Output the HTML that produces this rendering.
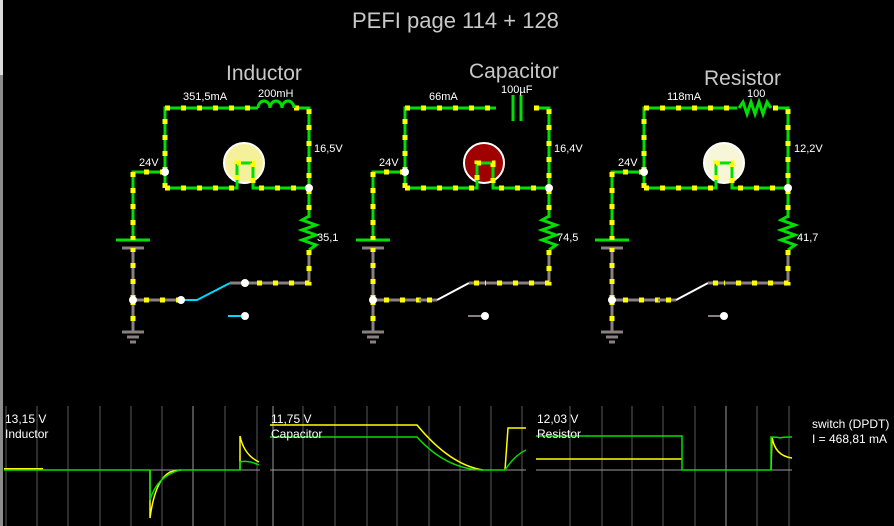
<!DOCTYPE html>
<html><head><meta charset="utf-8"><style>
html,body{margin:0;padding:0;background:#000;width:894px;height:526px;overflow:hidden}
svg{display:block}
text{font-family:"Liberation Sans",sans-serif}
</style></head><body>
<svg width="894" height="526" viewBox="0 0 894 526" xmlns="http://www.w3.org/2000/svg">
<defs>
<g id="ckt">
  <g fill="none" stroke="#00e000" stroke-width="3">
    <path d="M165 188 V108 H258 M294 108 H309 V218"/>
    <path d="M165 188 H237 V163 H253 V188 H309"/>
    <path d="M165 172 H133 V240"/>
    <path d="M116 240 H150"/>
  </g>
  <g fill="none" stroke="#8a8080" stroke-width="3">
    <path d="M309 250 V283 H245"/>
    <path d="M181 300 H133 V248 M133 300 V332"/>
    <path d="M122 248 H144"/>
    <path d="M122 332 H144 M127 337 H139 M130 342 H136"/>
  </g>
  <path d="M309 216 L302 220 L316 225 L302 230 L316 235 L302 240 L316 245 L309 250" fill="none" stroke="#00e000" stroke-width="3"/>
  <g fill="none" stroke="#ffff00" stroke-width="5" stroke-dasharray="5 11">
    <path d="M165 188 V108 H258 M294 108 H309 V218"/>
    <path d="M165 188 H237 V163 H253 V188 H309"/>
    <path d="M165 172 H133 V240"/>
    <path d="M309 250 V283 H245"/>
    <path d="M181 300 H133 V248 M133 300 V332"/>
  </g>
  <circle cx="165" cy="172" r="4" fill="#fff"/>
  <circle cx="309" cy="188" r="4" fill="#fff"/>
  <circle cx="133" cy="300" r="4" fill="#fff"/>
  <text x="139" y="166" font-size="11" fill="#fff">24V</text>
</g>
</defs>

<rect x="0" y="0" width="3" height="526" fill="#8c8c8c"/>
<rect x="0" y="0" width="3" height="75" fill="#dcdcdc"/>

<text x="352" y="28" font-size="22" fill="#c8c8c8">PEFI page 114 + 128</text>
<text x="226" y="80" font-size="21" fill="#c8c8c8">Inductor</text>
<text x="469" y="78" font-size="21" fill="#c8c8c8">Capacitor</text>
<text x="704" y="85" font-size="21" fill="#c8c8c8">Resistor</text>

<!-- Inductor circuit -->
<g>
  <circle cx="244" cy="163" r="20" fill="#f5f19a" stroke="#fff" stroke-width="2"/>
  <use href="#ckt"/>
  <path d="M258 108 a6 7 0 0 1 12 0 a6 7 0 0 1 12 0 a6 7 0 0 1 12 0" fill="none" stroke="#00e000" stroke-width="3"/>
  <path d="M230 283 L197 300 H181" fill="none" stroke="#00d8ff" stroke-width="2"/>
  <path d="M230 283 H245" stroke="#8a8080" stroke-width="3"/>
  <path d="M228 316 H245" stroke="#00d8ff" stroke-width="2"/>
  <circle cx="181" cy="300" r="4" fill="#fff"/>
  <circle cx="245" cy="283" r="4" fill="#fff"/>
  <circle cx="245" cy="316" r="4" fill="#fff"/>
  <text x="183" y="100" font-size="11" fill="#fff">351,5mA</text>
  <text x="258" y="97" font-size="11" fill="#fff">200mH</text>
  <text x="314" y="152" font-size="11" fill="#fff">16,5V</text>
  <text x="317" y="241" font-size="11" fill="#fff">35,1</text>
</g>

<!-- Capacitor circuit -->
<g>
  <circle cx="484" cy="163" r="20" fill="#a00000" stroke="#fff" stroke-width="2"/>
  <g transform="translate(240,0)"><use href="#ckt"/></g>
  <rect x="496" y="105" width="16" height="6" fill="#000"/>
  <rect x="523" y="105" width="10" height="6" fill="#000"/>
  <path d="M513 95 V121 M521 95 V121" stroke="#00e000" stroke-width="3"/>
  <path d="M419 300 H437" stroke="#8a8080" stroke-width="3"/>
  <rect x="427" y="297.5" width="5" height="5" fill="#ffff00"/>
  <path d="M437 300 L469 283" fill="none" stroke="#fff" stroke-width="2"/>
  <path d="M469 283 H485" stroke="#8a8080" stroke-width="3"/>
  <rect x="474" y="280.5" width="5" height="5" fill="#ffff00"/>
  <path d="M468 316 H485" stroke="#8a8080" stroke-width="2"/>
  <circle cx="485" cy="316" r="4" fill="#fff"/>
  <text x="429" y="100" font-size="11" fill="#fff">66mA</text>
  <text x="501" y="93" font-size="11" fill="#fff">100µF</text>
  <text x="554" y="152" font-size="11" fill="#fff">16,4V</text>
  <text x="557" y="241" font-size="11" fill="#fff">74,5</text>
</g>

<!-- Resistor circuit -->
<g>
  <circle cx="724" cy="163" r="20" fill="#f8f6d8" stroke="#fff" stroke-width="2"/>
  <g transform="translate(479,0)"><use href="#ckt"/></g>
  <rect x="737" y="105" width="36" height="6" fill="#000"/>
  <path d="M739 108 L743 102 L747 114 L751 102 L755 114 L759 102 L763 114 L767 102 L771 108" fill="none" stroke="#00e000" stroke-width="3"/>
  <path d="M658 300 H676" stroke="#8a8080" stroke-width="3"/>
  <rect x="666" y="297.5" width="5" height="5" fill="#ffff00"/>
  <path d="M676 300 L708 283" fill="none" stroke="#fff" stroke-width="2"/>
  <path d="M708 283 H724" stroke="#8a8080" stroke-width="3"/>
  <rect x="713" y="280.5" width="5" height="5" fill="#ffff00"/>
  <path d="M708 316 H724" stroke="#8a8080" stroke-width="2"/>
  <circle cx="724" cy="316" r="4" fill="#fff"/>
  <text x="667" y="100" font-size="11" fill="#fff">118mA</text>
  <text x="747" y="97" font-size="11" fill="#fff">100</text>
  <text x="794" y="152" font-size="11" fill="#fff">12,2V</text>
  <text x="797" y="241" font-size="11" fill="#fff">41,7</text>
</g>

<!-- Scopes grid -->
<g stroke="#5a5a5a" stroke-width="1">
  <path d="M6 406 V526 M37 406 V526 M68 406 V526 M100 406 V526 M131 406 V526 M162 406 V526 M225 406 V526 M257 406 V526"/>
  <path d="M303 406 V526 M335 406 V526 M367 406 V526 M397 406 V526 M429 406 V526 M460 406 V526 M491 406 V526 M522 406 V526"/>
  <path d="M570 406 V526 M602 406 V526 M632 406 V526 M663 406 V526 M695 406 V526 M757 406 V526 M789 406 V526"/>
</g>
<g stroke="#9a9a9a" stroke-width="1">
  <path d="M193 406 V526 M273 406 V526 M726 406 V526"/>
  <path d="M4 470 H260 M270 470 H526 M536 470 H792"/>
</g>

<path d="M4 469 H43" stroke="#ffff00" stroke-width="2"/>
<path d="M150 470 V518 Q155 480 170 472 Q178 470 181 470" fill="none" stroke="#ffff00" stroke-width="1.5"/>
<path d="M240 470 V436 Q244 455 259 462" fill="none" stroke="#ffff00" stroke-width="1.5"/>
<path d="M4 470 H150 V500 Q157 476 180 470 H240 V462 Q248 460 259 465" fill="none" stroke="#00e000" stroke-width="1.5"/>

<path d="M270 425 H417 Q450 465 483 470 M505 470 L508 428 H526" fill="none" stroke="#ffff00" stroke-width="1.5"/>
<path d="M270 437 H417 Q445 468 480 470 H505 Q515 455 526 450" fill="none" stroke="#00e000" stroke-width="1.5"/>

<path d="M536 459 H682 M771 470 L772 437 Q775 456 792 458" fill="none" stroke="#ffff00" stroke-width="1.5"/>
<path d="M536 436 H682 V470 H771 V437 Q778 437 780 438 Q782 437 792 437" fill="none" stroke="#00e000" stroke-width="1.5"/>

<g font-size="12" fill="#fff">
  <text x="5" y="423">13,15 V</text>
  <text x="5" y="438">Inductor</text>
  <text x="271" y="423">11,75 V</text>
  <text x="271" y="438">Capacitor</text>
  <text x="537" y="423">12,03 V</text>
  <text x="537" y="438">Resistor</text>
  <text x="812" y="428">switch (DPDT)</text>
  <text x="812" y="443">I = 468,81 mA</text>
</g>
</svg>
</body></html>
